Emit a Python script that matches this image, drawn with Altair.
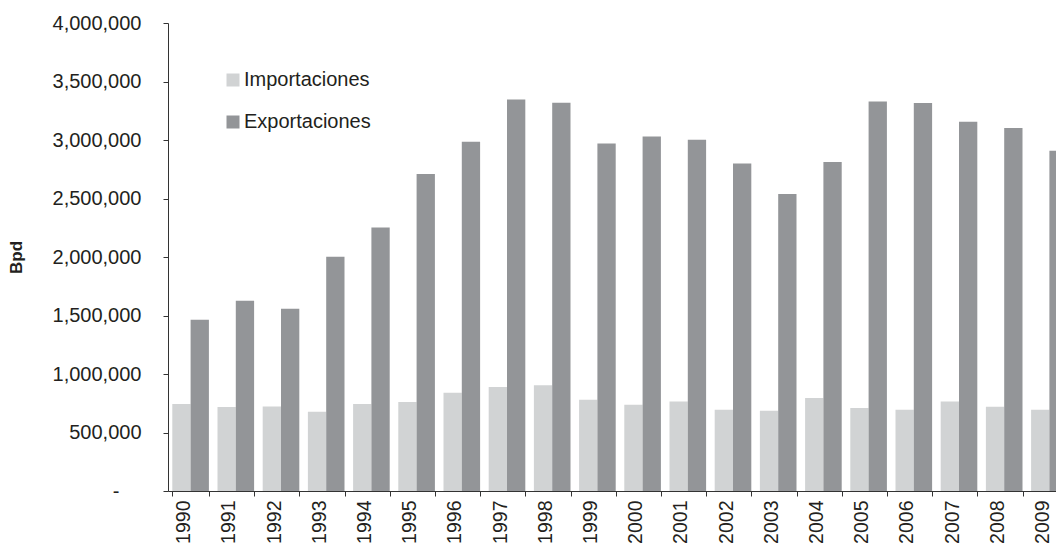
import altair as alt
import pandas as pd

years = [str(y) for y in range(1990, 2010)]
importaciones = [744000, 718000, 723000, 678000, 744000, 761000, 840000, 889000, 903000, 780000,
                 738000, 766000, 695000, 686000, 795000, 709000, 695000, 766000, 720000, 695000]
exportaciones = [1464000, 1626000, 1558000, 2003000, 2253000, 2709000, 2985000, 3347000, 3319000, 2971000,
                 3030000, 3003000, 2800000, 2538000, 2812000, 3330000, 3316000, 3156000, 3103000, 2908000]
series = ["Importaciones", "Exportaciones"]
colors = ["#d1d3d4", "#939598"]

rows = []
for i, y in enumerate(years):
    rows.append({"year": y, "serie": series[0], "value": importaciones[i]})
    rows.append({"year": y, "serie": series[1], "value": exportaciones[i]})
df = pd.DataFrame(rows)

FONT = "Liberation Sans"
TXT = "#231f20"

chart = alt.Chart(df).mark_bar().encode(
    x=alt.X("year:N", sort=years,
            scale=alt.Scale(range=[0, 904], paddingInner=0.19, paddingOuter=0.095),
            axis=alt.Axis(title=None, labelAngle=-90, tickBand="extent", tickSize=5,
                          labelPadding=4, labelOffset=-7, labelFontSize=19.5, labelFont=FONT,
                          labelColor=TXT, domainColor="#333333", tickColor="#333333")),
    xOffset=alt.XOffset("serie:N", sort=series, scale=alt.Scale(paddingInner=0, paddingOuter=0)),
    y=alt.Y("value:Q", scale=alt.Scale(domain=[0, 4000000], nice=False),
            axis=alt.Axis(title="Bpd", values=list(range(0, 4000001, 500000)), format=",",
                          labelExpr="datum.value == 0 ? '-' : format(datum.value, ',')",
                          labelPadding={"condition": {"test": "datum.value == 0", "value": 44}, "value": 22},
                          grid=False, tickSize=5, labelFontSize=20, labelFont=FONT,
                          labelColor=TXT, domainColor="#333333", tickColor="#333333",
                          titleFont=FONT, titleFontSize=17, titleFontWeight="bold",
                          titleColor=TXT, titleX=-143)),
    color=alt.Color("serie:N", sort=series,
                    scale=alt.Scale(domain=series, range=colors),
                    legend=alt.Legend(title=None, orient="none", legendX=55, legendY=47,
                                      direction="vertical", symbolType="square", symbolSize=169,
                                      symbolStrokeWidth=0, labelFontSize=20, labelFont=FONT,
                                      labelColor=TXT, labelOffset=1, rowPadding=22,
                                      padding=0)),
).properties(
    width=888, height=468,
    autosize=alt.AutoSizeParams(type="none"),
    padding={"left": 160, "top": 15, "right": 0, "bottom": 53},
).configure_view(stroke=None)

chart.save("out.html", embed_options={"renderer": "svg", "actions": False})
